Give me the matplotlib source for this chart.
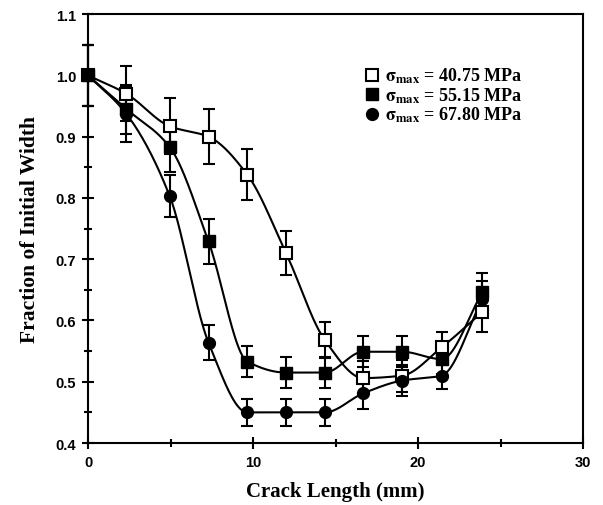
import numpy as np
import matplotlib.pyplot as plt
from matplotlib.ticker import MultipleLocator, FormatStrFormatter

# crack length (mm), same stations for all three stress levels
crack = [0.0, 2.33, 4.95, 7.3, 9.65, 12.0, 14.35, 16.67, 19.03, 21.42, 23.9]

# fraction of initial width
w_4075 = [1.0, 0.970, 0.917, 0.900, 0.838, 0.710, 0.568, 0.506, 0.510, 0.556, 0.614]
w_5515 = [1.0, 0.945, 0.883, 0.729, 0.533, 0.515, 0.515, 0.549, 0.549, 0.537, 0.646]
w_6780 = [1.0, 0.937, 0.803, 0.564, 0.450, 0.450, 0.450, 0.481, 0.502, 0.510, 0.635]

# error bar half-widths
e_4075 = [0.05, 0.045, 0.046, 0.045, 0.042, 0.036, 0.030, 0.028, 0.026, 0.025, 0.032]
e_5515 = [0.05, 0.040, 0.040, 0.036, 0.025, 0.025, 0.025, 0.025, 0.025, 0.025, 0.032]
e_6780 = [0.05, 0.045, 0.034, 0.028, 0.022, 0.022, 0.022, 0.025, 0.025, 0.022, 0.030]

labels = ['40.75', '55.15', '67.80']


def smooth(x, y, n=40):
    # monotone cubic (Fritsch-Carlson) through the points
    x = np.asarray(x, float)
    y = np.asarray(y, float)
    h = np.diff(x)
    d = np.diff(y) / h
    m = np.zeros_like(y)
    m[0], m[-1] = d[0], d[-1]
    for i in range(1, len(x) - 1):
        if d[i - 1] * d[i] > 0:
            w1 = 2 * h[i] + h[i - 1]
            w2 = h[i] + 2 * h[i - 1]
            m[i] = (w1 + w2) / (w1 / d[i - 1] + w2 / d[i])
    xs, ys = [], []
    for i in range(len(x) - 1):
        t = np.linspace(0, 1, n, endpoint=False)
        h00 = 2 * t**3 - 3 * t**2 + 1
        h10 = t**3 - 2 * t**2 + t
        h01 = -2 * t**3 + 3 * t**2
        h11 = t**3 - t**2
        xs.append(x[i] + t * h[i])
        ys.append(h00 * y[i] + h10 * h[i] * m[i] + h01 * y[i + 1] + h11 * h[i] * m[i + 1])
    xs.append([x[-1]])
    ys.append([y[-1]])
    return np.concatenate(xs), np.concatenate(ys)


fig = plt.figure(figsize=(6.03, 5.06), dpi=100)
ax = fig.add_axes([0.146, 0.1225, 0.821, 0.8475])

series = [
    (w_4075, e_4075, dict(marker='s', mfc='white', mec='black', mew=1.5)),
    (w_5515, e_5515, dict(marker='s', mfc='black', mec='black')),
    (w_6780, e_6780, dict(marker='o', mfc='black', mec='black')),
]

handles = []
for (w, e, st), lab in zip(series, labels):
    sx, sy = smooth(crack, w)
    ax.plot(sx, sy, color='black', lw=1.5, zorder=2)
    ax.errorbar(crack, w, yerr=e, fmt='none', ecolor='black', elinewidth=1.5,
                capsize=4, capthick=1.5, zorder=3, clip_on=False)
    h, = ax.plot(crack, w, ls='none', ms=8.5, zorder=4, clip_on=False, **st)
    handles.append(h)

ax.set_xlim(0, 30)
ax.set_ylim(0.4, 1.1)
ax.xaxis.set_major_locator(MultipleLocator(10))
ax.xaxis.set_minor_locator(MultipleLocator(5))
ax.yaxis.set_major_locator(MultipleLocator(0.1))
ax.yaxis.set_minor_locator(MultipleLocator(0.05))
ax.xaxis.set_major_formatter(FormatStrFormatter('%d'))
ax.yaxis.set_major_formatter(FormatStrFormatter('%.1f'))
ax.tick_params(which='major', direction='inout', length=9, width=1.5,
               labelsize=10.5, pad=4, labelfontfamily='Liberation Sans')
ax.tick_params(which='minor', direction='inout', length=6, width=1.5)
for lab in ax.get_xticklabels() + ax.get_yticklabels():
    lab.set_fontweight('bold')
for sp in ax.spines.values():
    sp.set_linewidth(1.5)

ax.set_xlabel('Crack Length (mm)', family='Liberation Serif', weight='bold',
              fontsize=15, labelpad=9)
ax.set_ylabel('Fraction of Initial Width', family='Liberation Serif',
              weight='bold', fontsize=15.5, labelpad=11)

plt.rcParams['mathtext.fontset'] = 'stix'
leg_labels = [r'$\mathbf{\sigma}_{\mathbf{max}}$ = %s MPa' % v for v in labels]
leg = ax.legend(handles, leg_labels, loc='upper left', bbox_to_anchor=(0.545, 0.9),
                frameon=False, handlelength=0.6, handletextpad=0.4,
                labelspacing=0.0, borderpad=0,
                prop=dict(family='Liberation Serif', weight='bold', size=13))

fig.savefig('out.png', dpi=100)
